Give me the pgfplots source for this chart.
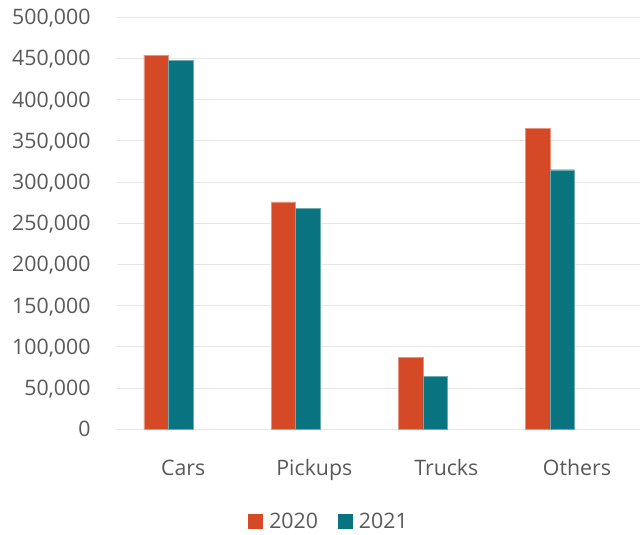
\documentclass[border=0pt]{standalone}
\usepackage{fontspec}
\setmainfont{Open Sans}
\usepackage{pgfplots}
\pgfplotsset{compat=1.18}
\definecolor{c20}{HTML}{D54927}
\definecolor{c21}{HTML}{097480}
\definecolor{txt}{HTML}{595959}
\definecolor{grd}{HTML}{E6E6E6}
\begin{document}
\begin{tikzpicture}
\begin{axis}[name=ax, scale only axis, width=523.3bp, height=412bp,
  xmin=-0.407, xmax=3.708, ymin=0, ymax=500000,
  ybar=0pt, bar width=24.5bp,
  xtick={0.116,1.147,2.185,3.212}, xticklabels={Cars,Pickups,Trucks,Others},
  ytick={0,50000,...,500000},
  ymajorgrids, major grid style={grd, line width=1bp},
  axis line style={draw=none}, major tick length=0pt,
  scaled y ticks=false,
  yticklabel={\pgfmathprintnumber[fixed,1000 sep={,},assume math mode=true]{\tick}},
  xticklabel style={font=\fontsize{21.3bp}{25bp}\selectfont, text=txt, anchor=base, inner sep=0pt, yshift=-45.7bp},
  yticklabel style={font=\fontsize{21.3bp}{25bp}\selectfont, text=txt, anchor=base east, inner sep=0pt, xshift=-26bp, yshift=-7.5bp},
  legend style={at={(0.251,-0.2245)}, anchor=west, draw=none, fill=none, inner sep=0pt,
    font=\fontsize{21.3bp}{25bp}\selectfont, text=txt,
    /tikz/every odd column/.append style={column sep=6bp},
    /tikz/every even column/.append style={column sep=20bp},
    nodes={inner sep=0pt}},
  legend columns=2,
  legend image code/.code={\fill[#1,draw=none] (0bp,-7.5bp) rectangle (15bp,7.5bp);},
]
\addplot[fill=c20, draw=c20!60!white, line width=0.3bp] coordinates {(0,454000) (1,276000) (2,87000) (3,365000)};
\addplot[fill=c21, draw=c21!60!white, line width=0.3bp] coordinates {(0,448000) (1,268000) (2,64000) (3,315000)};
\legend{2020,2021}
\end{axis}
\pgfresetboundingbox
\path ([shift={(-116.7bp,-105.7bp)}]ax.south west) rectangle ([shift={(0bp,17.3bp)}]ax.north east);
\end{tikzpicture}
\end{document}
